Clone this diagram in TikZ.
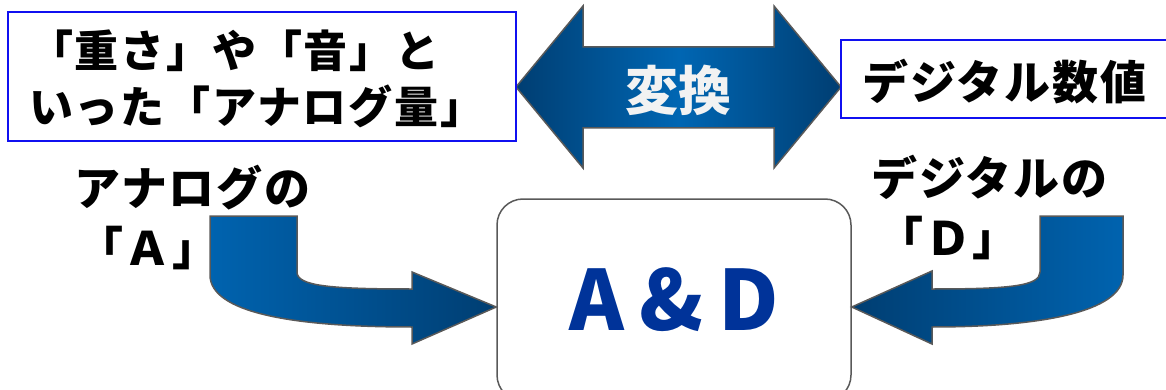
\documentclass[tikz,border=0pt]{standalone}
\usepackage{fontspec}
\setmainfont{Noto Sans CJK JP}
\newfontfamily\jpsp{Noto Sans CJK JP}[LetterSpace=4]
\definecolor{edgegray}{HTML}{595959}
\definecolor{boxblue}{HTML}{1010F0}
\definecolor{darkblue}{HTML}{003E72}
\definecolor{midblue}{HTML}{0066B3}
\definecolor{lightblue}{HTML}{0063AF}
\definecolor{adblue}{HTML}{003399}
\begin{document}
\begin{tikzpicture}[x=1pt,y=-1pt,
  txt/.style={font=\jpsp\bfseries\fontsize{#1}{#1}\selectfont, inner sep=0pt, anchor=base west},
  framebox/.style={draw=boxblue, line width=2pt, fill=white, inner sep=0pt},
  blockarrow/.style={draw=edgegray, line width=1.5pt}]
\useasboundingbox (0,0) rectangle (1166,390);
\clip (0,0) rectangle (1166,390);
% double arrow
\path[blockarrow, left color=darkblue, right color=darkblue, middle color=midblue]
  (516,87) -- (583,6) -- (583,47) -- (774,47) -- (774,6) -- (841,87)
  -- (774,168) -- (774,128) -- (583,128) -- (583,168) -- cycle;
\node[font=\bfseries\fontsize{53}{53}\selectfont, text=white!95!black, inner sep=0pt] (conv) at (678,90) {変換};
% boxes
\node[framebox, minimum width=508pt, minimum height=129pt] (analog) at (262,76.5) {};
\node[framebox, minimum width=340pt, minimum height=78pt] (digital) at (1011,79) {};
\node[txt=44] (l1) at (29,68) {「重さ」や「音」と};
\node[txt=44] (l2) at (29,124) {いった「アナログ量」};
\node[txt=46] (r1) at (862,100) {デジタル数値};
% center box
\node[draw=edgegray, line width=1.5pt, rounded corners=26pt, minimum width=354pt, minimum height=202pt,
  text=adblue, font=\bfseries\fontsize{83}{83}\selectfont] (ad) at (674,300) {A\hspace{15pt}\&\hspace{15pt}D};
% left bent arrow
\path[blockarrow, left color=lightblue, right color=darkblue]
  (210,216) -- (297,216) -- (297,272) .. controls (297,286) and (330,289) .. (412,289)
  -- (412,272) -- (ad.west |- 0,307) -- (412,344) -- (412,327)
  .. controls (290,327) and (210,312) .. (210,275) -- cycle;
% right bent arrow
\path[blockarrow, left color=darkblue, right color=lightblue]
  (1123,216) -- (1040,216) -- (1040,272) .. controls (1040,286) and (1010,289) .. (932,289)
  -- (932,271) -- (ad.east |- 0,307) -- (932,344) -- (932,327)
  .. controls (1040,327) and (1123,312) .. (1123,275) -- cycle;
% labels
\node[txt=46] (la1) at (74,205) {アナログの};
\node[txt=46] (la2) at (77,265) {「Ａ」};
\node[txt=46] (ld1) at (871,195) {デジタルの};
\node[txt=46] (ld2) at (877,255) {「Ｄ」};
\end{tikzpicture}
\end{document}
